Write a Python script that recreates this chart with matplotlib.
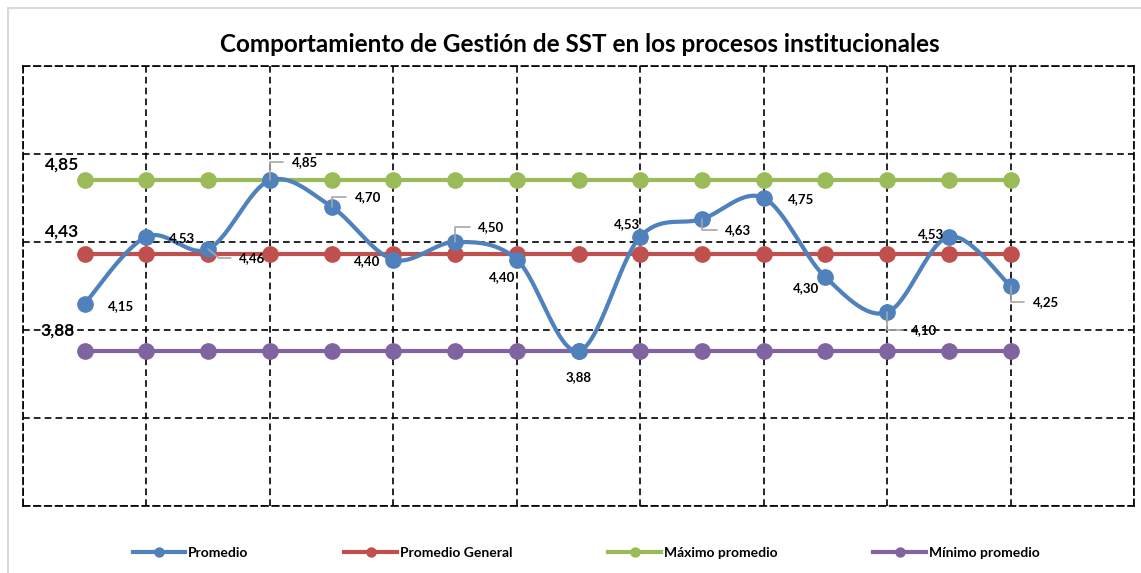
import numpy as np
import matplotlib.pyplot as plt

plt.rcParams['font.family'] = ['Lato', 'DejaVu Sans']

promedio = [4.15, 4.53, 4.46, 4.85, 4.70, 4.40, 4.50, 4.40,
            3.88, 4.53, 4.63, 4.75, 4.30, 4.10, 4.53, 4.25]
promedio_general = 4.43
maximo = 4.85
minimo = 3.88
labels = ['Promedio', 'Promedio General', 'Máximo promedio', 'Mínimo promedio']

# label offsets in pixels (dx, dy) and leader line type
label_pos = [(36, -2, 0), (36, -1, 0), (44, -9, 2), (35, 18, 1), (36, 10, 1),
             (-26, -1, 0), (36, 15, 1), (-15, -17, 0), (0, -26, 0), (-13, 13, 0),
             (36, -11, 1), (37, -1, 0), (-19, -11, 0), (37, -18, 1), (-18, 3, 0),
             (35, -16, 1)]

blue = '#4F81BD'
red = '#C0504D'
green = '#9BBB59'
purple = '#8064A2'


def smooth(y):
    # excel-like smoothing: bezier segments with catmull-rom control points
    y = np.asarray(y, float)
    x = np.arange(len(y), dtype=float)
    pts = np.column_stack([x, y])
    out = []
    t = np.linspace(0, 1, 30)[:, None]
    for i in range(len(pts) - 1):
        p0 = pts[max(i - 1, 0)]
        p1 = pts[i]
        p2 = pts[i + 1]
        p3 = pts[min(i + 2, len(pts) - 1)]
        c1 = p1 + (p2 - p0) / 6
        c2 = p2 - (p3 - p1) / 6
        seg = ((1 - t) ** 3) * p1 + 3 * ((1 - t) ** 2) * t * c1 + 3 * (1 - t) * t ** 2 * c2 + t ** 3 * p2
        out.append(seg if i == 0 else seg[1:])
    out = np.vstack(out)
    return out[:, 0], out[:, 1]


fig = plt.figure(figsize=(11.41, 5.73), dpi=100)
ax = fig.add_axes([23 / 1141, 67 / 573, 1111 / 1141, 440 / 573])

fig.patches.append(plt.Rectangle((8 / 1141, -0.05), 1.2, 1 - 8 / 573 + 0.05,
                                 transform=fig.transFigure, fill=False,
                                 edgecolor='#D9D9D9', lw=1.5))

n = len(promedio)
x = np.arange(n)
lw = 3
ms = 11

ax.plot(x, [promedio_general] * n, color=red, lw=lw, marker='o', ms=ms, zorder=3)
ax.plot(x, [maximo] * n, color=green, lw=lw, marker='o', ms=ms, zorder=3)
ax.plot(x, [minimo] * n, color=purple, lw=lw, marker='o', ms=ms, zorder=3)
sx, sy = smooth(promedio)
ax.plot(sx, sy, color=blue, lw=lw, zorder=4)
ax.plot(x, promedio, color=blue, lw=0, marker='o', ms=ms, zorder=5)

# legend handles
handles = [plt.Line2D([], [], color=c, lw=lw, marker='o', ms=6.5)
           for c in (blue, red, green, purple)]
fig.legend(handles, labels, loc='center', ncol=4, frameon=False,
           bbox_to_anchor=(586 / 1141, 1 - 553 / 573), handlelength=3.8,
           columnspacing=6.9, handletextpad=0.2,
           prop={'weight': 'bold', 'size': 10})

for i, v in enumerate(promedio):
    dx, dy, lead = label_pos[i]
    txt = f'{v:.2f}'.replace('.', ',')
    if lead:
        cs = 'angle,angleA=0,angleB=90,rad=0' if lead == 1 else 'angle,angleA=0,angleB=-40,rad=0'
        ax.annotate(txt, (i, v), xytext=(dx, dy), textcoords='offset pixels',
                    ha='center', va='center', fontsize=9.5, fontweight='bold', zorder=6,
                    arrowprops=dict(arrowstyle='-', color='#A6A6A6', lw=1.2,
                                    connectionstyle=cs, relpos=(0, 0.5),
                                    shrinkA=4, shrinkB=0))
    else:
        ax.annotate(txt, (i, v), xytext=(dx, dy), textcoords='offset pixels',
                    ha='center', va='center', fontsize=9.5, fontweight='bold', zorder=6)

for v, dx, dy in ((maximo, -23, 16), (promedio_general, -23, 23), (minimo, -27, 21)):
    ax.annotate(f'{v:.2f}'.replace('.', ','), (0, v), xytext=(dx, dy),
                textcoords='offset pixels', ha='center', va='center',
                fontsize=12.5, fontweight='bold', zorder=6)

ax.set_xlim(-1, 17)
ax.set_ylim(3.0, 5.5)
ax.set_xticks(np.arange(-1, 18, 2))
ax.set_yticks(np.arange(3.0, 5.51, 0.5))
ax.tick_params(length=0, labelbottom=False, labelleft=False)
ax.grid(True, color='black', linestyle=(0, (4, 2.5)), lw=1.2)
for s in ax.spines.values():
    s.set_linestyle((0, (4, 2.5)))
    s.set_linewidth(1.2)

fig.text(580 / 1141, 1 - 45 / 573, 'Comportamiento de Gestión de SST en los procesos institucionales',
         ha='center', va='center', fontsize=17.5, fontweight='bold')

fig.savefig('out.png', dpi=100)
